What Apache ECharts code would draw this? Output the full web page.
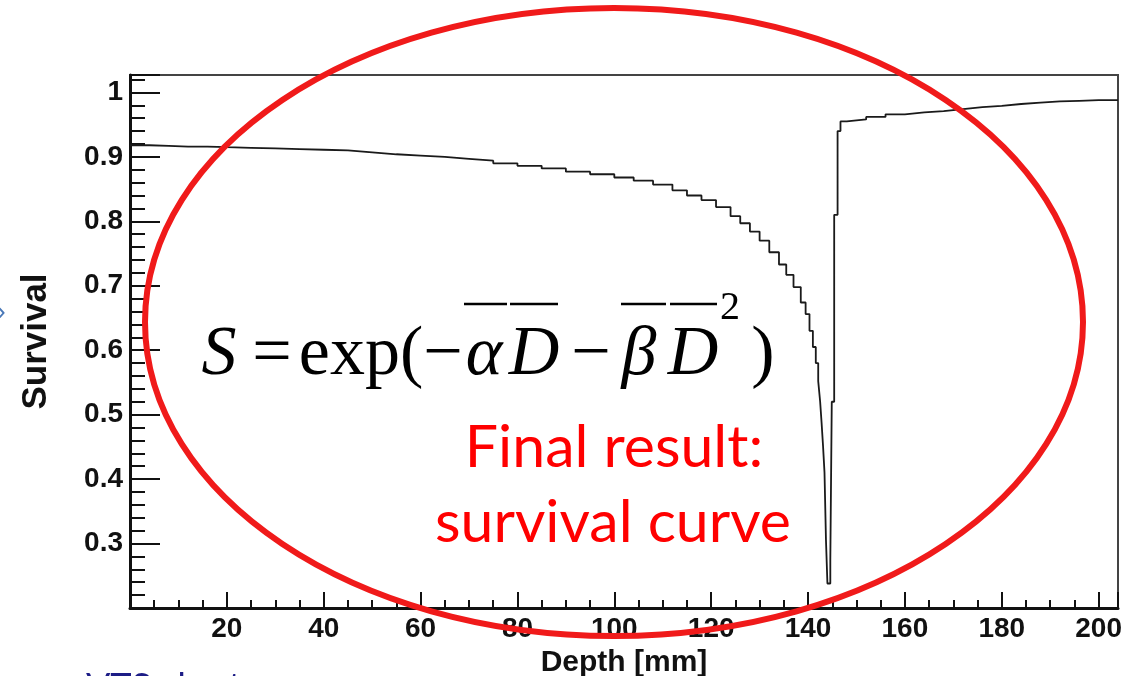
<!DOCTYPE html>
<html>
<head>
<meta charset="utf-8">
<script src="https://cdn.jsdelivr.net/npm/echarts@6/dist/echarts.min.js"></script>
<style>
html,body{margin:0;padding:0;background:#fff;}
#chart{width:1140px;height:676px;}
</style>
</head>
<body>
<div id="chart"></div>
<script>
// Survival histogram (bin left edge -> value)
var depth = [0, 4, 8, 12, 16, 20, 25, 30, 35, 40, 45, 50, 55, 60, 65, 70, 75, 80, 85, 90, 95, 100,
  104, 108, 112, 115, 118, 121, 124, 126, 128, 130, 132, 134, 135.5, 137, 138.5, 139.5, 140.3, 141,
  141.6, 142.1, 142.5, 142.8, 143.1, 143.4, 143.7, 144, 144.6, 144.9, 145.4, 146.1, 146.7, 148,
  152, 156, 160, 164, 168, 172, 176, 180, 184, 188, 192, 196, 200, 204];
var survival = [0.918, 0.917, 0.916, 0.916, 0.915, 0.914, 0.913, 0.912, 0.911, 0.910, 0.907, 0.904, 0.902, 0.900, 0.897, 0.894, 0.890, 0.886, 0.882, 0.877, 0.873, 0.868,
  0.863, 0.857, 0.848, 0.840, 0.833, 0.822, 0.808, 0.797, 0.784, 0.770, 0.752, 0.733, 0.717, 0.698, 0.674, 0.656, 0.630, 0.605,
  0.580, 0.552, 0.520, 0.487, 0.451, 0.410, 0.306, 0.238, 0.275, 0.520, 0.810, 0.940, 0.955, 0.958,
  0.962, 0.966, 0.969, 0.971, 0.974, 0.977, 0.979, 0.982, 0.984, 0.986, 0.987, 0.988, 0.988, 0.988];
var xTicks = [20, 40, 60, 80, 100, 120, 140, 160, 180, 200];
var yTicks = [0.3, 0.4, 0.5, 0.6, 0.7, 0.8, 0.9, 1];
var xTitle = 'Depth [mm]';
var yTitle = 'Survival';

var points = depth.map(function (d, i) { return [d, survival[i]]; });

function isTick(list, v) {
  for (var i = 0; i < list.length; i++) { if (Math.abs(list[i] - v) < 1e-6) return true; }
  return false;
}

var chart = echarts.init(document.getElementById('chart'), null, {renderer: 'canvas'});
var labelFont = {fontFamily: 'Liberation Sans', fontWeight: 'bold', fontSize: 28, color: '#111'};
var serif = '"Liberation Serif", "DejaVu Serif", serif';

var option = {
  animation: false,
  backgroundColor: '#fff',
  grid: {left: 130, right: 22, top: 75, bottom: 68, show: true, borderColor: '#444', borderWidth: 2, containLabel: false, outerBoundsMode: 'none'},
  xAxis: {
    type: 'value', min: 0, max: 204, interval: 20,
    axisLine: {show: true, onZero: false, lineStyle: {color: '#111', width: 3}},
    axisTick: {show: true, inside: true, length: 16, lineStyle: {color: '#111', width: 2}},
    minorTick: {show: true, splitNumber: 4, length: 8, lineStyle: {color: '#111', width: 2}},
    splitLine: {show: false},
    axisLabel: Object.assign({margin: 7, formatter: function (v) { return isTick(xTicks, v) ? String(Math.round(v)) : ''; }}, labelFont),
    name: xTitle, nameLocation: 'middle', nameGap: 38,
    nameTextStyle: {fontFamily: 'Liberation Sans', fontWeight: 'bold', fontSize: 30, color: '#111'}
  },
  yAxis: {
    type: 'value', min: 0.2, max: 1.027, interval: 0.1,
    axisLine: {show: true, onZero: false, lineStyle: {color: '#111', width: 3}},
    axisTick: {show: true, inside: true, length: 30, lineStyle: {color: '#111', width: 2}},
    minorTick: {show: true, splitNumber: 5, length: 15, lineStyle: {color: '#111', width: 2}},
    splitLine: {show: false},
    axisLabel: Object.assign({margin: 7, formatter: function (v) {
      if (!isTick(yTicks, v)) return '';
      return Math.abs(v - 1) < 1e-6 ? '1' : v.toFixed(1);
    }}, labelFont),
    name: yTitle, nameLocation: 'middle', nameGap: 76, nameRotate: 90,
    nameTextStyle: {fontFamily: 'Liberation Sans', fontWeight: 'bold', fontSize: 35, color: '#111'}
  },
  series: [{
    type: 'line', step: 'end', data: points, showSymbol: false, symbol: 'none',
    lineStyle: {color: '#1a1a1a', width: 1.8}, z: 3
  }],
  graphic: [
    {type: 'text', left: -3, top: 300, style: {text: '\u203A', font: '26px "Liberation Sans"', fill: '#4a78b8'}},
    {type: 'text', left: 86, top: 669, style: {text: 'VTS chart', font: '36px Lato', fill: '#1c1c86'}},
    // formula
    {type: 'group', z: 10, children: [
      {type: 'text', style: {x: 219, y: 356, text: 'S', font: 'italic 70px ' + serif, fill: '#000', textAlign: 'center', textVerticalAlign: 'middle'}},
      {type: 'text', style: {x: 272, y: 356, text: '=', font: '70px ' + serif, fill: '#000', textAlign: 'center', textVerticalAlign: 'middle'}},
      {type: 'text', style: {x: 361, y: 356, text: 'exp(', font: '70px ' + serif, fill: '#000', textAlign: 'center', textVerticalAlign: 'middle'}},
      {type: 'text', style: {x: 443, y: 356, text: '\u2212', font: '70px ' + serif, fill: '#000', textAlign: 'center', textVerticalAlign: 'middle'}},
      {type: 'text', style: {x: 484, y: 356, text: '\u03B1', font: 'italic 70px ' + serif, fill: '#000', textAlign: 'center', textVerticalAlign: 'middle'}},
      {type: 'text', style: {x: 534, y: 356, text: 'D', font: 'italic 70px ' + serif, fill: '#000', textAlign: 'center', textVerticalAlign: 'middle'}},
      {type: 'text', style: {x: 591, y: 356, text: '\u2212', font: '70px ' + serif, fill: '#000', textAlign: 'center', textVerticalAlign: 'middle'}},
      {type: 'text', style: {x: 639, y: 356, text: '\u03B2', font: 'italic 70px ' + serif, fill: '#000', textAlign: 'center', textVerticalAlign: 'middle'}},
      {type: 'text', style: {x: 693, y: 356, text: 'D', font: 'italic 70px ' + serif, fill: '#000', textAlign: 'center', textVerticalAlign: 'middle'}},
      {type: 'text', style: {x: 730, y: 308, text: '2', font: '40px ' + serif, fill: '#000', textAlign: 'center', textVerticalAlign: 'middle'}},
      {type: 'text', style: {x: 763, y: 356, text: ')', font: '70px ' + serif, fill: '#000', textAlign: 'center', textVerticalAlign: 'middle'}},
      {type: 'line', shape: {x1: 464, y1: 304, x2: 507, y2: 304}, style: {stroke: '#000', lineWidth: 2.5}},
      {type: 'line', shape: {x1: 510, y1: 304, x2: 558, y2: 304}, style: {stroke: '#000', lineWidth: 2.5}},
      {type: 'line', shape: {x1: 621, y1: 304, x2: 666, y2: 304}, style: {stroke: '#000', lineWidth: 2.5}},
      {type: 'line', shape: {x1: 670, y1: 304, x2: 717, y2: 304}, style: {stroke: '#000', lineWidth: 2.5}}
    ]},
    {type: 'text', z: 10, style: {x: 614, y: 448, text: 'Final result:', font: '59px Lato', fill: '#ff0000', textAlign: 'center', textVerticalAlign: 'middle'}},
    {type: 'text', z: 10, style: {x: 613, y: 523, text: 'survival curve', font: '59px Lato', fill: '#ff0000', textAlign: 'center', textVerticalAlign: 'middle'}},
    {type: 'ellipse', z: 20, shape: {cx: 614, cy: 322, rx: 469, ry: 314}, style: {fill: 'none', stroke: '#f01a1a', lineWidth: 6}}
  ]
};
chart.setOption(option);
</script>
</body>
</html>
